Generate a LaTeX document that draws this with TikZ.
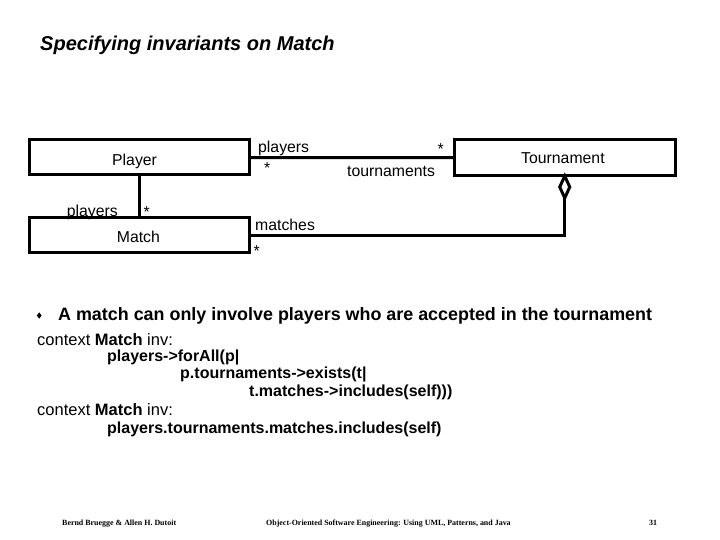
\documentclass[tikz,border=0pt]{standalone}
\usepackage{fontspec}
\setmainfont{Liberation Sans}
\newfontfamily\footfont{Liberation Serif}
\usetikzlibrary{shapes.geometric}
\begin{document}
\begin{tikzpicture}[x=1pt,y=-1pt,
  classbox/.style={draw, line width=3pt, minimum width=220pt, minimum height=35pt, inner sep=0pt, outer sep=0pt},
  assoc/.style={line width=3pt},
  lbl/.style={font=\fontsize{15.8}{18}\selectfont, inner sep=0pt, anchor=base west},
  code/.style={font=\fontsize{16}{19}\selectfont\bfseries, inner sep=0pt, anchor=base west},
  ctx/.style={font=\fontsize{16.5}{19}\selectfont, inner sep=0pt, anchor=base west},
  foot/.style={font=\footfont\bfseries\fontsize{7.95}{9}\selectfont, inner sep=0pt, anchor=base west}]
\useasboundingbox (0,0) rectangle (720,540);
% title
\node[inner sep=0pt, anchor=base west, font=\fontsize{20}{23}\selectfont\bfseries\itshape] (title) at (40,51) {Specifying invariants on Match};
% classes
\node[classbox] (player) at (139.5,157.5) {};
\node[classbox] (match) at (139.5,235) {};
\node[classbox, minimum width=221.5pt, minimum height=36.5pt] (tour) at (564.75,157.75) {};
\node[lbl] (tplayer) at (112,165.4) {Player};
\node[lbl] (tmatch) at (116.7,243) {Match};
\node[lbl] (ttour) at (521,163.8) {Tournament};
% aggregation diamond
\node[draw, diamond, line width=3pt, inner sep=0pt, outer sep=0pt, minimum width=10pt, minimum height=22pt, anchor=north] (agg) at (tour.south) {};
% connectors
\draw[assoc] (player.east) -- (tour.west);
\draw[assoc] (player.south) -- (match.north);
\draw[assoc] (agg.south) |- (match.east);
% role labels
\node[lbl] (r1) at (258,152.8) {players};
\node[lbl] (m1) at (264,173.8) {*};
\node[lbl] (m2) at (437.5,155) {*};
\node[lbl] (r2) at (347,177) {tournaments};
\node[lbl] (r3) at (66.7,216.4) {players};
\node[lbl] (m3) at (143.5,218) {*};
\node[lbl] (r4) at (255,230) {matches};
\node[lbl] (m4) at (253.5,256) {*};
% bullet
\node[fill=black, diamond, inner sep=0pt, minimum width=5pt, minimum height=6.5pt] (bul) at (39.2,315.5) {};
\node[inner sep=0pt, anchor=base west, font=\fontsize{17.9}{21}\selectfont\bfseries] (btext) at (58,320) {A match can only involve players who are accepted in the tournament};
% OCL
\node[ctx] (c1) at (37,345) {context \textbf{Match} inv:};
\node[code] (l1) at (107,361) {players->forAll(p|};
\node[code] (l2) at (180,378) {p.tournaments->exists(t|};
\node[code] (l3) at (249,396) {t.matches->includes(self)))};
\node[ctx] (c2) at (37,415) {context \textbf{Match} inv:};
\node[code] (l4) at (107,433) {players.tournaments.matches.includes(self)};
% footer
\node[foot] (f1) at (62,525) {Bernd Bruegge \& Allen H. Dutoit};
\node[foot] (f2) at (266,525) {Object-Oriented Software Engineering: Using UML, Patterns, and Java};
\node[foot] (f3) at (649,525) {31};
\end{tikzpicture}
\end{document}
